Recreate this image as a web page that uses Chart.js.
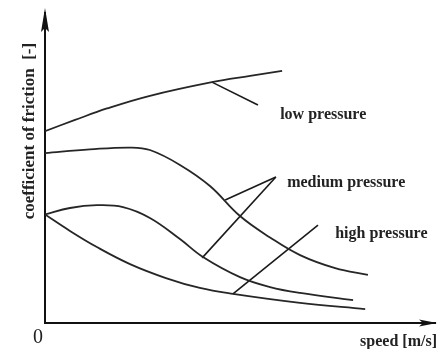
<!DOCTYPE html>
<html>
<head>
<meta charset="utf-8">
<script src="https://cdn.jsdelivr.net/npm/chart.js@4/dist/chart.umd.min.js"></script>
<style>
  html, body { margin: 0; padding: 0; background: #fff; }
  #wrap { width: 438px; height: 349px; position: relative; }
</style>
</head>
<body>
<div id="wrap"><canvas id="c"></canvas></div>
<script>
// Friction coefficient vs. sliding speed (qualitative curves, arbitrary units)
const lowSpeed   = [0, 0.77, 1.59, 2.69, 4.28, 5.26, 6.08];
const lowMu      = [6.19, 6.55, 6.92, 7.33, 7.77, 7.97, 8.13];

const mediumSpeed = [0, 1.15, 2.18, 2.69, 3.46, 4.23, 5.0, 5.77, 6.54, 7.44, 8.28];
const mediumMu    = [5.48, 5.60, 5.66, 5.58, 5.10, 4.42, 3.45, 2.76, 2.19, 1.77, 1.55];

const humpSpeed  = [0, 0.64, 1.33, 2.0, 2.69, 3.46, 4.05, 5.0, 5.77, 6.54, 7.90];
const humpMu     = [3.5, 3.71, 3.80, 3.74, 3.39, 2.71, 2.13, 1.48, 1.16, 0.97, 0.74];

const highSpeed  = [0, 0.64, 1.33, 2.18, 3.1, 3.97, 4.82, 6.54, 8.21];
const highMu     = [3.5, 2.97, 2.45, 1.90, 1.45, 1.13, 0.94, 0.65, 0.45];

// Leader lines: [fromSpeed, fromMu, toSpeed, toMu]
const leaders = [
  [4.28, 7.77, 5.46, 7.03],
  [5.92, 4.71, 4.62, 3.97],
  [5.92, 4.71, 4.03, 2.10],
  [7.0, 3.16, 4.82, 0.94]
];

// Curve captions and where they sit (speed, mu of left/middle edge)
const captionText  = ['low pressure', 'medium pressure', 'high pressure'];
const captionSpeed = [6.03, 6.21, 7.44];
const captionMu    = [6.71, 4.52, 2.87];

const xTitle = 'speed [m/s]';
const yTitle = 'coefficient of friction  [-]';
const originLabel = '0';

const pts = (xs, ys) => xs.map((x, i) => ({ x: x, y: ys[i] }));

const curveStyle = {
  borderColor: '#262626', borderWidth: 1.8, pointRadius: 0,
  tension: 0.4, fill: false
};
const leaderStyle = {
  borderColor: '#1a1a1a', borderWidth: 1.6, pointRadius: 0, tension: 0, fill: false
};

const datasets = [
  Object.assign({ label: 'low', data: pts(lowSpeed, lowMu) }, curveStyle),
  Object.assign({ label: 'medium', data: pts(mediumSpeed, mediumMu) }, curveStyle),
  Object.assign({ label: 'hump', data: pts(humpSpeed, humpMu) }, curveStyle),
  Object.assign({ label: 'high', data: pts(highSpeed, highMu) }, curveStyle)
];
leaders.forEach((l, i) => {
  datasets.push(Object.assign({ label: 'leader' + i, data: [{ x: l[0], y: l[1] }, { x: l[2], y: l[3] }] }, leaderStyle));
});

// Arrowheads, axis titles and captions
const decorations = {
  id: 'decorations',
  afterDraw(chart) {
    const ctx = chart.ctx;
    const xs = chart.scales.x, ys = chart.scales.y;
    const x0 = xs.getPixelForValue(0), y0 = ys.getPixelForValue(0);
    const right = chart.chartArea.right, top = chart.chartArea.top;
    ctx.save();
    ctx.fillStyle = '#111';
    // y arrow
    ctx.beginPath();
    ctx.moveTo(x0, top - 5);
    ctx.lineTo(x0 - 4, top + 19);
    ctx.lineTo(x0, top + 15);
    ctx.lineTo(x0 + 4, top + 19);
    ctx.closePath();
    ctx.fill();
    // x arrow
    ctx.beginPath();
    ctx.moveTo(right + 2, y0);
    ctx.lineTo(right - 16, y0 - 3.5);
    ctx.lineTo(right - 12, y0);
    ctx.lineTo(right - 16, y0 + 3.5);
    ctx.closePath();
    ctx.fill();

    // origin
    ctx.fillStyle = '#222';
    ctx.font = '20px "Liberation Serif", "Times New Roman", serif';
    ctx.textAlign = 'center';
    ctx.textBaseline = 'middle';
    ctx.fillText(originLabel, x0 - 7, y0 + 15);

    // x title
    ctx.font = 'bold 16px "Liberation Serif", "Times New Roman", serif';
    ctx.textAlign = 'right';
    ctx.fillText(xTitle, right + 2, y0 + 19);

    // y title
    ctx.save();
    ctx.translate(x0 - 15, ys.getPixelForValue(6.19));
    ctx.rotate(-Math.PI / 2);
    ctx.font = 'bold 17px "Liberation Serif", "Times New Roman", serif';
    ctx.textAlign = 'center';
    ctx.textBaseline = 'middle';
    ctx.fillText(yTitle, 0, 0);
    ctx.restore();

    // captions
    ctx.font = 'bold 16px "Liberation Serif", "Times New Roman", serif';
    ctx.textAlign = 'left';
    ctx.textBaseline = 'middle';
    captionText.forEach((t, i) => {
      ctx.fillText(t, xs.getPixelForValue(captionSpeed[i]), ys.getPixelForValue(captionMu[i]));
    });
    ctx.restore();
  }
};

new Chart(document.getElementById('c'), {
  type: 'line',
  data: { datasets: datasets },
  options: {
    responsive: true,
    maintainAspectRatio: false,
    animation: false,
    layout: { padding: { left: 45, right: 3, top: 13, bottom: 26 } },
    plugins: { legend: { display: false }, tooltip: { enabled: false } },
    scales: {
      x: {
        type: 'linear', min: 0, max: 10,
        grid: { display: false, drawTicks: false },
        ticks: { display: false },
        border: { display: true, color: '#111', width: 2 },
        afterFit(s) { s.height = 0; }
      },
      y: {
        type: 'linear', min: 0, max: 10,
        grid: { display: false, drawTicks: false },
        ticks: { display: false },
        border: { display: true, color: '#111', width: 2 },
        afterFit(s) { s.width = 0; }
      }
    }
  },
  plugins: [decorations]
});
</script>
</body>
</html>
